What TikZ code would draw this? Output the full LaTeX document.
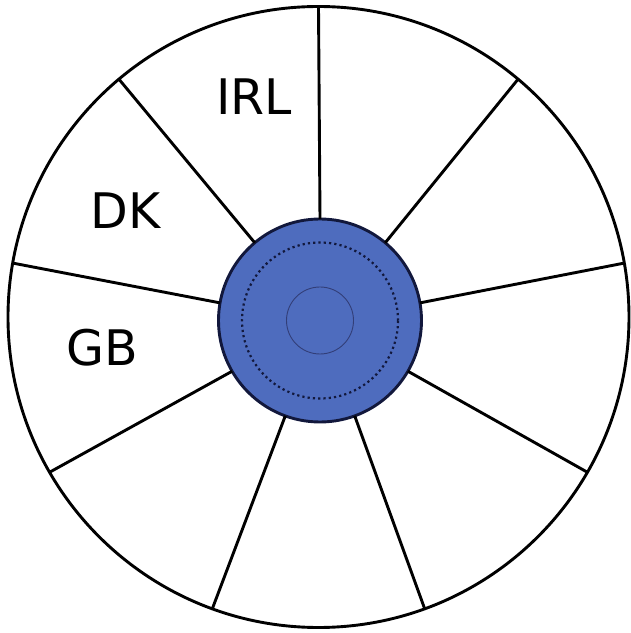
\documentclass[tikz,border=0pt]{standalone}
\usepackage{fontspec}
\newfontfamily\labelfont{DejaVu Sans}
\usetikzlibrary{calc}
\definecolor{hub_color}{RGB}{78,108,190}
\definecolor{hub_line}{RGB}{18,24,60}
\definecolor{core_line}{RGB}{50,62,120}
\tikzset{
  rim/.style={
    draw=black, line width=2.9pt, circle, minimum size=621pt,
    inner sep=0pt, outer sep=0pt
  },
  hub/.style={
    draw=hub_line, line width=2.9pt, circle, fill=hub_color,
    minimum size=203pt, inner sep=0pt, outer sep=0pt
  },
  hubring/.style={
    draw=hub_line, line width=2.2pt, circle, minimum size=156pt,
    inner sep=0pt, dash pattern=on 2.2pt off 3.1pt
  },
  hubcore/.style={
    draw=core_line, line width=0.9pt, circle, minimum size=67pt,
    inner sep=0pt
  },
  spoke/.style={black, line width=2.9pt},
  country/.style={font=\labelfont\fontsize{49}{52}\selectfont, inner sep=0pt}
}

\begin{document}
\begin{tikzpicture}[x=1pt, y=1pt]
\useasboundingbox (0,0) rectangle (631,633);

\node[rim] (wheel) at (318.5,316) {};
\node[hub] (hub) at (320,312.5) {};
\node[hubring] (ring) at (hub.center) {};
\node[hubcore] (core) at (hub.center) {};

\draw[spoke] (hub.90) -- (wheel.90);
\draw[spoke] (hub.130) -- (wheel.130);
\draw[spoke] (hub.170) -- (wheel.170);
\draw[spoke] (hub.210) -- (wheel.210);
\draw[spoke] (hub.250) -- (wheel.250);
\draw[spoke] (hub.290) -- (wheel.290);
\draw[spoke] (hub.330) -- (wheel.330);
\draw[spoke] (hub.10) -- (wheel.10);
\draw[spoke] (hub.50) -- (wheel.50);

\node[country] (irl) at (254,536.4) {IRL};
\node[country] (dk) at (125.5,422) {DK};
\node[country] (gb) at (102,285) {GB};

\end{tikzpicture}
\end{document}
